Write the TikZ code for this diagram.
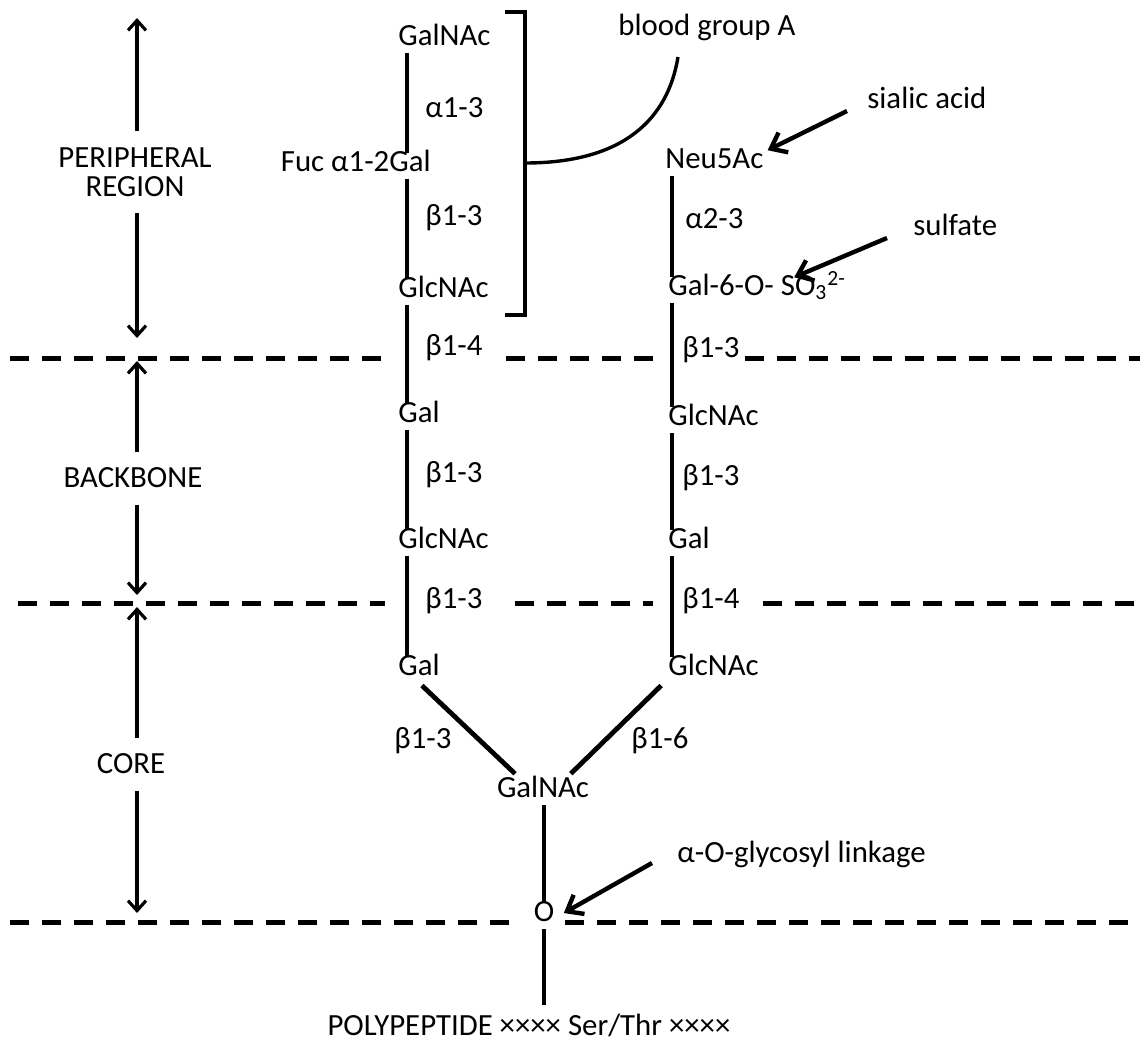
\documentclass[tikz,border=0pt]{standalone}
\usepackage{fontspec}
\setmainfont{Carlito}
\usepackage{tikz}
\usetikzlibrary{arrows.meta}
\usetikzlibrary{positioning}
\tikzstyle{sugar}=[inner sep=2pt,text height=1.45ex,text depth=.3ex]
\tikzstyle{bond}=[line width=2.4pt]
\tikzstyle{divider}=[line width=2.5pt,dash pattern=on 9.5pt off 6.5pt]
\tikzstyle{region}=[align=center,inner xsep=2pt,inner ysep=8pt]
\tikzstyle{span}=[line width=1.6pt,-{Straight Barb[length=5pt,width=9pt]}]
\tikzstyle{pointer}=[line width=2.2pt,-{Straight Barb[length=7pt,width=11pt]}]
\tikzstyle{brace}=[line width=1.7pt]

\begin{document}
\begin{tikzpicture}[x=0.5pt,y=-0.5pt,font=\fontsize{15.4pt}{14.5pt}\selectfont]
\useasboundingbox (0,0) rectangle (1148,1046);
\coordinate (lcol) at (407,0);
\coordinate (rcol) at (672,0);
\coordinate (ccol) at (544,0);

% left chain
\node [sugar,anchor=west] (galnacT) at (394,40) {GalNAc};
\node [sugar,anchor=east] (fucgal) at (435,166) {Fuc α1-2Gal};
\node [sugar,anchor=west] (glcnacT) at (394,292) {GlcNAc};
\node [sugar,anchor=west] (galL1) at (394,417) {Gal};
\node [sugar,anchor=west] (glcnacL2) at (394,543) {GlcNAc};
\node [sugar,anchor=west] (galL2) at (394,670) {Gal};
\node [sugar,anchor=west] (lkL1) at (421,112) {α1-3};
\node [sugar,anchor=west] (lkL2) at (421,220) {β1-3};
\node [sugar,anchor=west] (lkL3) at (421,350) {β1-4};
\node [sugar,anchor=west] (lkL4) at (421,477) {β1-3};
\node [sugar,anchor=west] (lkL5) at (421,603) {β1-3};

% right chain
\node [sugar,anchor=west] (neu) at (661,163) {Neu5Ac};
\node [sugar,anchor=west] (galsulf) at (664,290) {Gal-6-O- SO\textsubscript{3}\textsuperscript{2-}};
\node [sugar,anchor=west] (glcnacR1) at (664,420) {GlcNAc};
\node [sugar,anchor=west] (galR1) at (664,543) {Gal};
\node [sugar,anchor=west] (glcnacR2) at (664,670) {GlcNAc};
\node [sugar,anchor=west] (lkR1) at (681,223) {α2-3};
\node [sugar,anchor=west] (lkR2) at (678,352) {β1-3};
\node [sugar,anchor=west] (lkR3) at (678,480) {β1-3};
\node [sugar,anchor=west] (lkR4) at (678,603) {β1-4};

% core
\node [sugar] (lkC1) at (423,743) {β1-3};
\node [sugar] (lkC2) at (660,743) {β1-6};
\node [sugar] (galnacC) at (543,792) {GalNAc};
\node [sugar] (oxy) at (544,916) {O};
\node [sugar] (pep) at (529,1030) {POLYPEPTIDE ×××× Ser/Thr ××××};

\draw [bond] (galnacT.south -| lcol) -- (fucgal.north -| lcol);
\draw [bond] (fucgal.south -| lcol) -- (glcnacT.north -| lcol);
\draw [bond] (glcnacT.south -| lcol) -- (galL1.north -| lcol);
\draw [bond] (galL1.south -| lcol) -- (glcnacL2.north -| lcol);
\draw [bond] (glcnacL2.south -| lcol) -- (galL2.north -| lcol);
\draw [bond] (neu.south -| rcol) -- (galsulf.north -| rcol);
\draw [bond] (galsulf.south -| rcol) -- (glcnacR1.north -| rcol);
\draw [bond] (glcnacR1.south -| rcol) -- (galR1.north -| rcol);
\draw [bond] (galR1.south -| rcol) -- (glcnacR2.north -| rcol);
\draw [bond,shorten <=2pt,shorten >=4pt] (galL2.south) -- (galnacC.150);
\draw [bond,shorten <=2pt,shorten >=4pt] (glcnacR2.south west) -- (galnacC.30);
\draw [bond] (galnacC.south -| ccol) -- (oxy.north -| ccol);
\draw [bond] (oxy.south -| ccol) -- (ccol |- 0,1005);

% dividers
\draw [divider] (10,358) -- (387,358) (506,358) -- (653,358) (745,358) -- (1140,358);
\draw [divider] (18,603) -- (385,603) (515,603) -- (653,603) (763,603) -- (1140,603);
\draw [divider] (10,922) -- (515,922) (565,922) -- (1140,922);

% regions
\node [region] (peri) at (135,172) {PERIPHERAL\\REGION};
\node [region] (backbone) at (133,478) {BACKBONE};
\node [region] (core) at (131,764) {CORE};
\coordinate (periTop) at (137,18);
\coordinate (periBot) at (137,338);
\coordinate (backTop) at (137,361);
\coordinate (backBot) at (137,595);
\coordinate (coreTop) at (137,607);
\coordinate (coreBot) at (137,913);
\draw [span] (peri.north -| periTop) -- (periTop);
\draw [span] (peri.south -| periBot) -- (periBot);
\draw [span] (backbone.north -| backTop) -- (backTop);
\draw [span] (backbone.south -| backBot) -- (backBot);
\draw [span] (core.north -| coreTop) -- (coreTop);
\draw [span] (core.south -| coreBot) -- (coreBot);

% annotations
\coordinate (brTop) at (505,12);
\coordinate (brMid) at (525,163);
\coordinate (brBot) at (505,315);
\draw [brace] (brTop) -- (brTop -| brMid) -- (brBot -| brMid) -- (brBot);
\node [sugar] (blood) at (707,30) {blood group A};
\coordinate (bloodTail) at (678,57);
\draw [brace] (brMid) .. controls (625,163) and (668,118) .. (bloodTail);
\node [sugar,anchor=west] (sialic) at (863,103) {sialic acid};
\coordinate (sialicTail) at (847,111);
\draw [pointer] (sialicTail) -- (neu.north east);
\node [sugar,anchor=west] (sulfate) at (909,230) {sulfate};
\coordinate (sulfTail) at (887,238);
\draw [pointer] (sulfTail) -- (galsulf.19);
\node [sugar,anchor=west] (glyco) at (673,857) {α-O-glycosyl linkage};
\coordinate (glycoTail) at (652,863);
\draw [pointer,shorten >=3pt] (glycoTail) -- (oxy.east);
\end{tikzpicture}
\end{document}
